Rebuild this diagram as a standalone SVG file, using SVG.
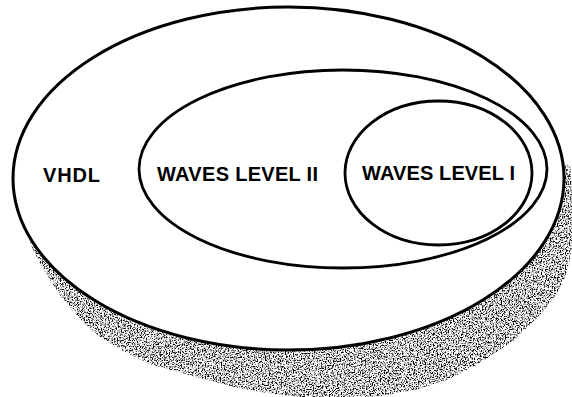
<svg xmlns="http://www.w3.org/2000/svg" width="572" height="397" viewBox="0 0 572 397">
  <style>
    .ring { fill: none; stroke: #000; stroke-width: 2.8; }
    .disk { fill: #fff; stroke: #000; stroke-width: 3; }
    .label { font-family: "Liberation Sans", Arial, Helvetica, sans-serif; font-weight: bold; font-size: 20px; fill: #000; }
  </style>
  <defs>
    <filter id="grain" x="0" y="0" width="1" height="1" color-interpolation-filters="sRGB">
      <feTurbulence type="fractalNoise" baseFrequency="0.75" numOctaves="3" seed="4" result="n"/>
      <feColorMatrix in="n" type="matrix" values="4.5 0 0 0 -1.45  4.5 0 0 0 -1.45  4.5 0 0 0 -1.45  0 0 0 0 1" result="g"/>
      <feComposite in="g" in2="SourceAlpha" operator="in"/>
    </filter>
  </defs>
  <rect width="572" height="397" fill="#fff"/>
  <g id="shadow">
    <polygon fill="#777" filter="url(#grain)" points="20,200 26,230 33,250 45,272 60,295 78,317 100,337 125,352 150,364 175,371 200,378 230,386 260,392 300,397 340,398 380,396 415,390 447,380 480,363 513,341 540,315 556,295 565,277 571,255 573,233 573,200 570,165 400,150 150,150"/>
  </g>
  <g id="vhdl">
    <ellipse class="disk" cx="288.5" cy="178.5" rx="275.5" ry="171.5"/>
    <text class="label" x="43" y="181.5" textLength="57">VHDL</text>
  </g>
  <g id="waves-level-2">
    <ellipse class="ring" cx="343" cy="169" rx="204" ry="99"/>
    <text class="label" x="157" y="180.5" textLength="161">WAVES LEVEL II</text>
  </g>
  <g id="waves-level-1">
    <ellipse class="ring" cx="438.5" cy="173" rx="93.5" ry="72"/>
    <text class="label" x="362" y="180" textLength="153">WAVES LEVEL I</text>
  </g>
  <g id="connectors"/>
</svg>
